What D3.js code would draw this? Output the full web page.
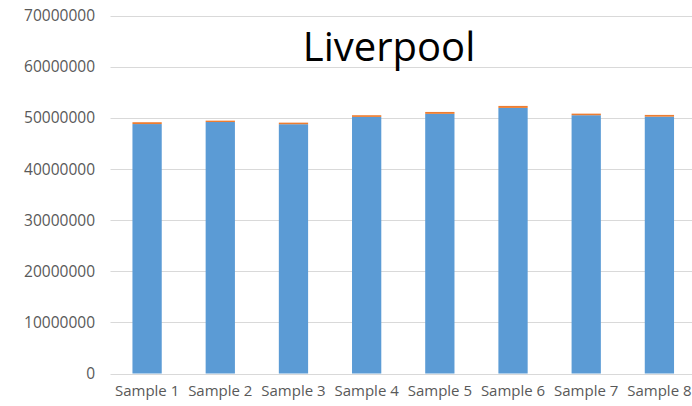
<!DOCTYPE html>
<html>
<head>
<meta charset="utf-8">
<script src="https://cdn.jsdelivr.net/npm/d3@7"></script>
<style>
  html, body { margin: 0; padding: 0; background: #fff; }
  svg { display: block; }
</style>
</head>
<body>
<svg id="chart" width="692" height="406"></svg>
<script>
// Sample totals split into two stacked series
const categories = ["Sample 1", "Sample 2", "Sample 3", "Sample 4", "Sample 5", "Sample 6", "Sample 7", "Sample 8"];
const seriesA = [48800000, 49200000, 48770000, 50200000, 50800000, 51960000, 50530000, 50250000];
const seriesB = [360000, 270000, 310000, 330000, 370000, 390000, 310000, 340000];
const yTicks = [0, 10000000, 20000000, 30000000, 40000000, 50000000, 60000000, 70000000];
const title = "Liverpool";

const svg = d3.select("#chart");
const plot = { left: 110.5, right: 696, top: 15.7, bottom: 373.5 };

const x = d3.scaleBand().domain(categories).range([plot.left, plot.right]).paddingInner(0.6).paddingOuter(0.3);
const y = d3.scaleLinear().domain([0, 70000000]).range([plot.bottom, plot.top]);

// Horizontal gridlines
svg.append("g").selectAll("line").data(yTicks).join("line")
  .attr("x1", plot.left).attr("x2", 692)
  .attr("y1", d => Math.round(y(d)) + 0.5).attr("y2", d => Math.round(y(d)) + 0.5)
  .attr("stroke", "#d9d9d9").attr("stroke-width", 1.2);

// Y axis labels
const yAxis = d3.axisLeft(y).tickValues(yTicks).tickFormat(d3.format("d")).tickSize(0).tickPadding(0);
const gy = svg.append("g").attr("transform", "translate(95,0)").call(yAxis);
gy.select(".domain").remove();
gy.selectAll("text")
  .attr("font-family", "'Open Sans', sans-serif").attr("font-size", 15.5)
  .attr("fill", "#595959");

// Stacked bars
const rows = categories.map((c, i) => ({ cat: c, a: seriesA[i], b: seriesB[i] }));
const stack = d3.stack().keys(["a", "b"])(rows);
const colors = { a: "#5b9bd5", b: "#ed7d31" };

svg.append("g").selectAll("g").data(stack).join("g")
  .attr("fill", d => colors[d.key])
  .selectAll("rect").data(d => d).join("rect")
  .attr("x", d => x(d.data.cat))
  .attr("width", x.bandwidth())
  .attr("y", d => y(d[1]))
  .attr("height", d => y(d[0]) - y(d[1]));

// X axis labels
const xAxis = d3.axisBottom(x).tickSize(0).tickPadding(0);
const gx = svg.append("g").attr("transform", `translate(0,${plot.bottom})`).call(xAxis);
gx.select(".domain").remove();
gx.selectAll("text")
  .attr("dy", "1.5em")
  .attr("font-family", "'Open Sans', sans-serif").attr("font-size", 15)
  .attr("fill", "#595959");

// Title
svg.append("text")
  .attr("x", 389).attr("y", 61)
  .attr("text-anchor", "middle")
  .attr("font-family", "'Open Sans', sans-serif").attr("font-size", 40)
  .attr("fill", "#000")
  .text(title);
</script>
</body>
</html>
